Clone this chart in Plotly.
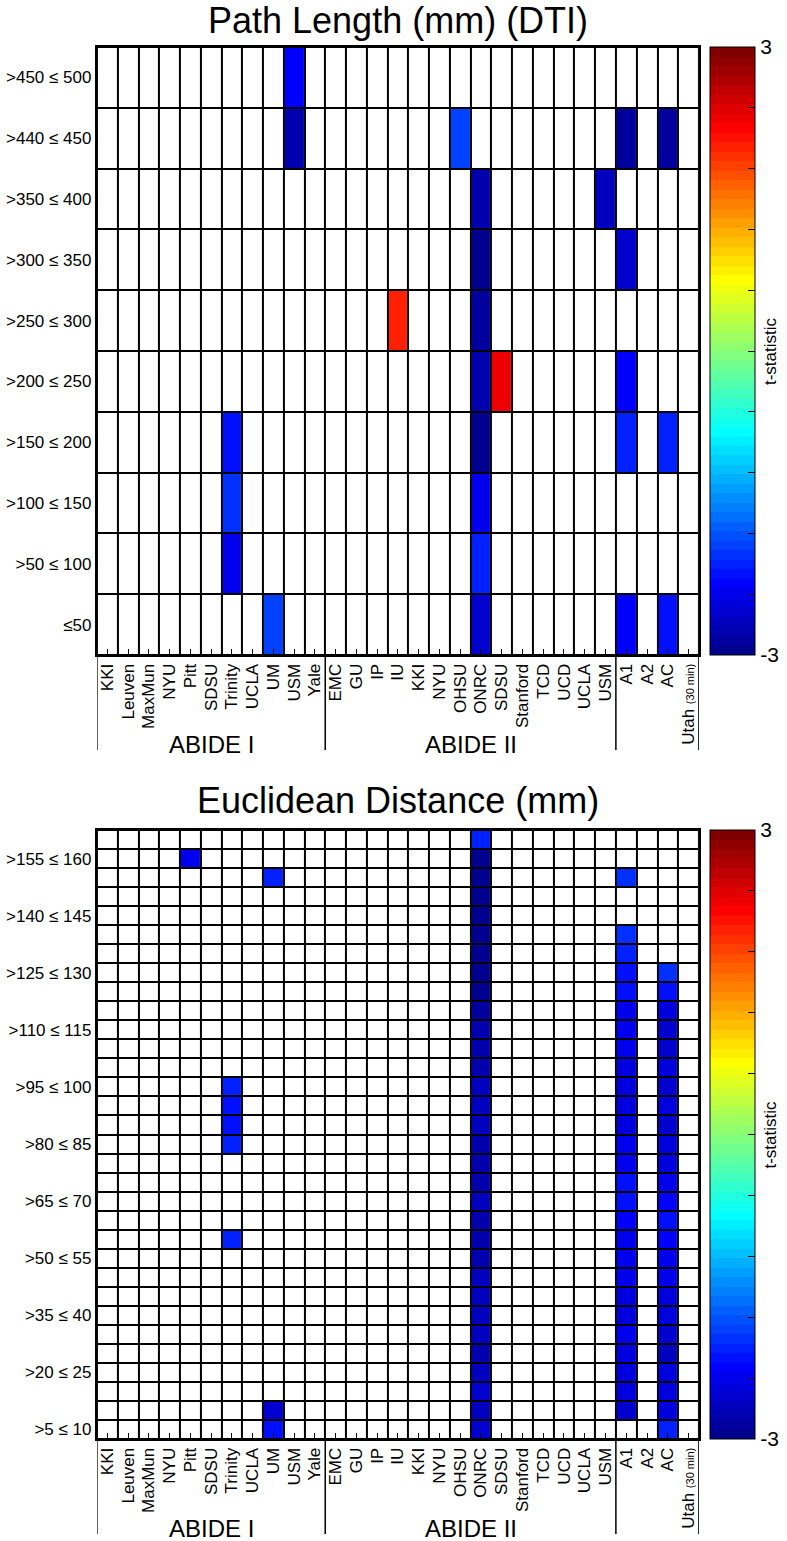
import plotly.graph_objects as go

N = None

# ---------------- categories ----------------
sites_abide1 = ["KKI", "Leuven", "MaxMun", "NYU", "Pitt", "SDSU", "Trinity", "UCLA", "UM", "USM", "Yale"]
sites_abide2 = ["EMC", "GU", "IP", "IU", "KKI", "NYU", "OHSU", "ONRC", "SDSU", "Stanford", "TCD", "UCD", "UCLA", "USM"]
sites_extra = ["A1", "A2", "AC", "Utah <span style='font-size:11px'>(30 min)</span>"]
group_labels = ["ABIDE I", "ABIDE II", ""]

# Path length bins, top -> bottom
path_bins = [">450 ≤ 500", ">440 ≤ 450", ">350 ≤ 400", ">300 ≤ 350", ">250 ≤ 300",
             ">200 ≤ 250", ">150 ≤ 200", ">100 ≤ 150", ">50 ≤ 100", "≤50"]
# Euclidean distance bins, top -> bottom (>160≤165 ... >5≤10)
euc_bins = [f">{lo} ≤ {lo + 5}" for lo in range(160, 4, -5)]
euc_shown = [">155 ≤ 160", ">140 ≤ 145", ">125 ≤ 130", ">110 ≤ 115", ">95 ≤ 100", ">80 ≤ 85",
             ">65 ≤ 70", ">50 ≤ 55", ">35 ≤ 40", ">20 ≤ 25", ">5 ≤ 10"]

# ---------------- Path length t-statistics (top -> bottom rows) ----------------
path_trinity_1 = [N, N, N, N, N, N, -2.20, -2.05, -2.35, N]
path_um_1      = [N, N, N, N, N, N, N, N, N, -1.95]
path_usm_1     = [-2.30, -2.80, N, N, N, N, N, N, N, N]
path_iu_2      = [N, N, N, N, 2.02, N, N, N, N, N]
path_ohsu_2    = [N, -1.90, N, N, N, N, N, N, N, N]
path_onrc_2    = [N, N, -2.75, -2.92, -2.90, -2.75, -2.95, -2.40, -2.15, -2.55]
path_sdsu_2    = [N, N, N, N, N, 2.25, N, N, N, N]
path_usm_2     = [N, N, -2.70, N, N, N, N, N, N, N]
path_a1        = [N, -2.90, N, -2.55, N, -2.30, -2.15, N, N, -2.30]
path_ac        = [N, -2.90, N, N, N, N, -2.10, N, N, -2.25]

# ---------------- Euclidean distance t-statistics (top -> bottom rows, 32) ----------------
euc_pitt_1 = [N, -2.40, N, N, N, N, N, N, N, N, N, N, N, N, N, N,
              N, N, N, N, N, N, N, N, N, N, N, N, N, N, N, N]
euc_trinity_1 = [N, N, N, N, N, N, N, N, N, N, N, N, N, -2.15, -2.20, -2.20,
                 -2.10, N, N, N, N, -2.10, N, N, N, N, N, N, N, N, N, N]
euc_um_1 = [N, N, -2.10, N, N, N, N, N, N, N, N, N, N, N, N, N,
            N, N, N, N, N, N, N, N, N, N, N, N, N, N, -2.60, -2.25]
euc_onrc_2 = [-2.10, -2.95, -2.95, -2.95, -2.95, -2.95, -2.95, -2.95, -2.92, -2.88, -2.80, -2.75,
              -2.72, -2.70, -2.68, -2.70, -2.72, -2.75, -2.72, -2.70, -2.72, -2.75, -2.72, -2.68,
              -2.65, -2.68, -2.70, -2.72, -2.65, -2.60, -2.65, -2.62]
euc_a1 = [N, N, -2.05, N, N, -2.05, -2.15, -2.20, -2.20, -2.35, -2.40, -2.40, -2.45, -2.45, -2.45, -2.45,
          -2.40, -2.35, -2.25, -2.25, -2.30, -2.35, -2.40, -2.40, -2.45, -2.45, -2.40, -2.45, -2.50, -2.50,
          -2.60, N]
euc_ac = [N, N, N, N, N, N, N, -2.05, -2.20, -2.50, -2.60, -2.55, -2.50, -2.55, -2.50, -2.55,
          -2.50, -2.45, -2.40, -2.30, -2.25, -2.30, -2.35, -2.40, -2.45, -2.50, -2.60, -2.65, -2.50, -2.45,
          -2.50, -2.15]

# ---------------- helpers ----------------
tick_text = sites_abide1 + sites_abide2 + sites_extra
ncol = len(tick_text)
off2 = len(sites_abide1)
off3 = len(sites_abide1) + len(sites_abide2)


def col1(name):
    return sites_abide1.index(name)


def col2(name):
    return off2 + sites_abide2.index(name)


def col3(name):
    return off3 + sites_extra.index(name)


def build(nrows, series):
    z = [[None] * ncol for _ in range(nrows)]
    for c, vals in series:
        for r, v in enumerate(vals):
            if v is not None:
                z[r][c] = v
    return z


z_path = build(len(path_bins), [
    (col1("Trinity"), path_trinity_1), (col1("UM"), path_um_1), (col1("USM"), path_usm_1),
    (col2("IU"), path_iu_2), (col2("OHSU"), path_ohsu_2), (col2("ONRC"), path_onrc_2),
    (col2("SDSU"), path_sdsu_2), (col2("USM"), path_usm_2),
    (col3("A1"), path_a1), (col3("AC"), path_ac),
])
z_euc = build(len(euc_bins), [
    (col1("Pitt"), euc_pitt_1), (col1("Trinity"), euc_trinity_1), (col1("UM"), euc_um_1),
    (col2("ONRC"), euc_onrc_2), (col3("A1"), euc_a1), (col3("AC"), euc_ac),
])


# MATLAB-style jet(64) colormap, stepped
def jet(m=64):
    n = m // 4
    u = [i / n for i in range(1, n + 1)] + [1.0] * (n - 1) + [i / n for i in range(n, 0, -1)]
    cols = []
    for k in range(1, m + 1):
        def pick(idx):
            return u[idx - 1] if 1 <= idx <= len(u) else 0.0
        r = pick(k - (n + n // 2))
        g = pick(k - n // 2)
        b = pick(k + n // 2)
        cols.append(f"rgb({round(r*255)},{round(g*255)},{round(b*255)})")
    return cols


jet_cols = jet(64)
colorscale = []
for i, c in enumerate(jet_cols):
    colorscale.append([i / 64, c])
    colorscale.append([(i + 1) / 64, c])

# ---------------- layout geometry (pixels) ----------------
W, H = 787, 1541
PX_L, PX_R = 98, 707
TOP_T, TOP_B = 47, 655
BOT_T, BOT_B = 830, 1439
CB_X, CB_W = 718, 45
FONT = "Liberation Sans, Arial, sans-serif"


def fx(px):
    return px / W


def fy(py):
    return 1 - py / H


cb_ticks = [round(-3 + 0.6 * k, 2) for k in range(11)]
cb_text = ["-3"] + [""] * 9 + ["3"]

fig = go.Figure()

panels = [
    ("x", "y", z_path, path_bins, TOP_T, TOP_B),
    ("x2", "y2", z_euc, euc_bins, BOT_T, BOT_B),
]

for xa, ya, z, bins, t, b in panels:
    nrows = len(bins)
    xs = list(range(ncol))
    ys = list(range(nrows))
    fig.add_trace(go.Heatmap(
        z=[[0] * ncol for _ in range(nrows)], x=xs, y=ys, xaxis=xa, yaxis=ya,
        colorscale=[[0, "white"], [1, "white"]], showscale=False,
        xgap=2, ygap=2, hoverinfo="skip"))
    fig.add_trace(go.Heatmap(
        z=z, x=xs, y=ys, xaxis=xa, yaxis=ya, zmin=-3, zmax=3,
        colorscale=colorscale, xgap=2, ygap=2,
        colorbar=dict(
            x=fx(CB_X), xanchor="left", xpad=0, ypad=0,
            thickness=CB_W, thicknessmode="pixels",
            len=b - t, lenmode="pixels", y=fy(t), yanchor="top",
            outlinewidth=1, outlinecolor="black",
            tickvals=cb_ticks, ticktext=cb_text, ticks="inside", ticklen=7,
            tickcolor="black", tickwidth=1, tickfont=dict(size=21, color="black", family=FONT),
        )))

axis_common = dict(showgrid=False, zeroline=False, showline=True, mirror=True,
                   linecolor="black", linewidth=2, automargin=False)

for xa, ya, z, bins, t, b in panels:
    nrows = len(bins)
    xkey = "xaxis" if xa == "x" else "xaxis2"
    ykey = "yaxis" if ya == "y" else "yaxis2"
    if ya == "y":
        yvals = list(range(nrows))
        ytext = bins
    else:
        yvals = [bins.index(lbl) for lbl in euc_shown]
        ytext = euc_shown
    fig.update_layout({
        xkey: dict(axis_common, domain=[fx(PX_L), fx(PX_R)], range=[-0.5, ncol - 0.5],
                   anchor=ya, tickmode="array", tickvals=list(range(ncol)), ticktext=tick_text,
                   tickangle=-90, ticks="inside", ticklen=6, tickcolor="black", tickwidth=1,
                   tickfont=dict(size=17, color="black", family=FONT)),
        ykey: dict(axis_common, domain=[fy(b), fy(t)], range=[nrows - 0.5, -0.5],
                   anchor=xa, tickmode="array", tickvals=yvals, ticktext=ytext, ticks="",
                   tickfont=dict(size=17, color="black", family=FONT)),
    })

# group separators and labels
bounds = [-0.5, off2 - 0.5, off3 - 0.5, ncol - 0.5]
group_centers = [(0 + off2 - 1) / 2, (off2 + off3 - 1) / 2, (off3 + ncol - 1) / 2]
shapes = []
annotations = []
for xa, ya, z, bins, t, b in panels:
    ph = b - t
    for bx in bounds:
        shapes.append(dict(type="line", xref=xa, yref=f"{ya} domain", x0=bx, x1=bx,
                           y0=0, y1=-95 / ph, line=dict(color="black", width=1.5)))
    for gx, gl in zip(group_centers, group_labels):
        if gl:
            annotations.append(dict(text=gl, xref=xa, yref=f"{ya} domain", x=gx, y=-89 / ph,
                                    yanchor="middle", xanchor="center", showarrow=False,
                                    font=dict(size=24, color="black", family=FONT)))
    annotations.append(dict(text="t-statistic", xref="paper", yref="paper",
                            x=fx(779), y=fy((t + b) / 2), textangle=-90, showarrow=False,
                            xanchor="center", yanchor="middle",
                            font=dict(size=17, color="black", family=FONT)))

annotations.append(dict(text="Path Length (mm) (DTI)", xref="paper", yref="paper",
                        x=fx((PX_L + PX_R) / 2), y=fy(20), xanchor="center", yanchor="middle",
                        showarrow=False, font=dict(size=36, color="black", family=FONT)))
annotations.append(dict(text="Euclidean Distance (mm)", xref="paper", yref="paper",
                        x=fx((PX_L + PX_R) / 2), y=fy(800), xanchor="center", yanchor="middle",
                        showarrow=False, font=dict(size=36, color="black", family=FONT)))

fig.update_layout(
    template="none", width=W, height=H, autosize=False, margin=dict(l=0, r=0, t=0, b=0),
    paper_bgcolor="white", plot_bgcolor="black",
    font=dict(family=FONT, color="black"),
    shapes=shapes, annotations=annotations, showlegend=False,
)

fig.write_html(
    "out.html",
    config={"responsive": False, "displayModeBar": False},
    post_script="document.body.style.margin='0px';document.body.style.overflow='hidden';",
)
